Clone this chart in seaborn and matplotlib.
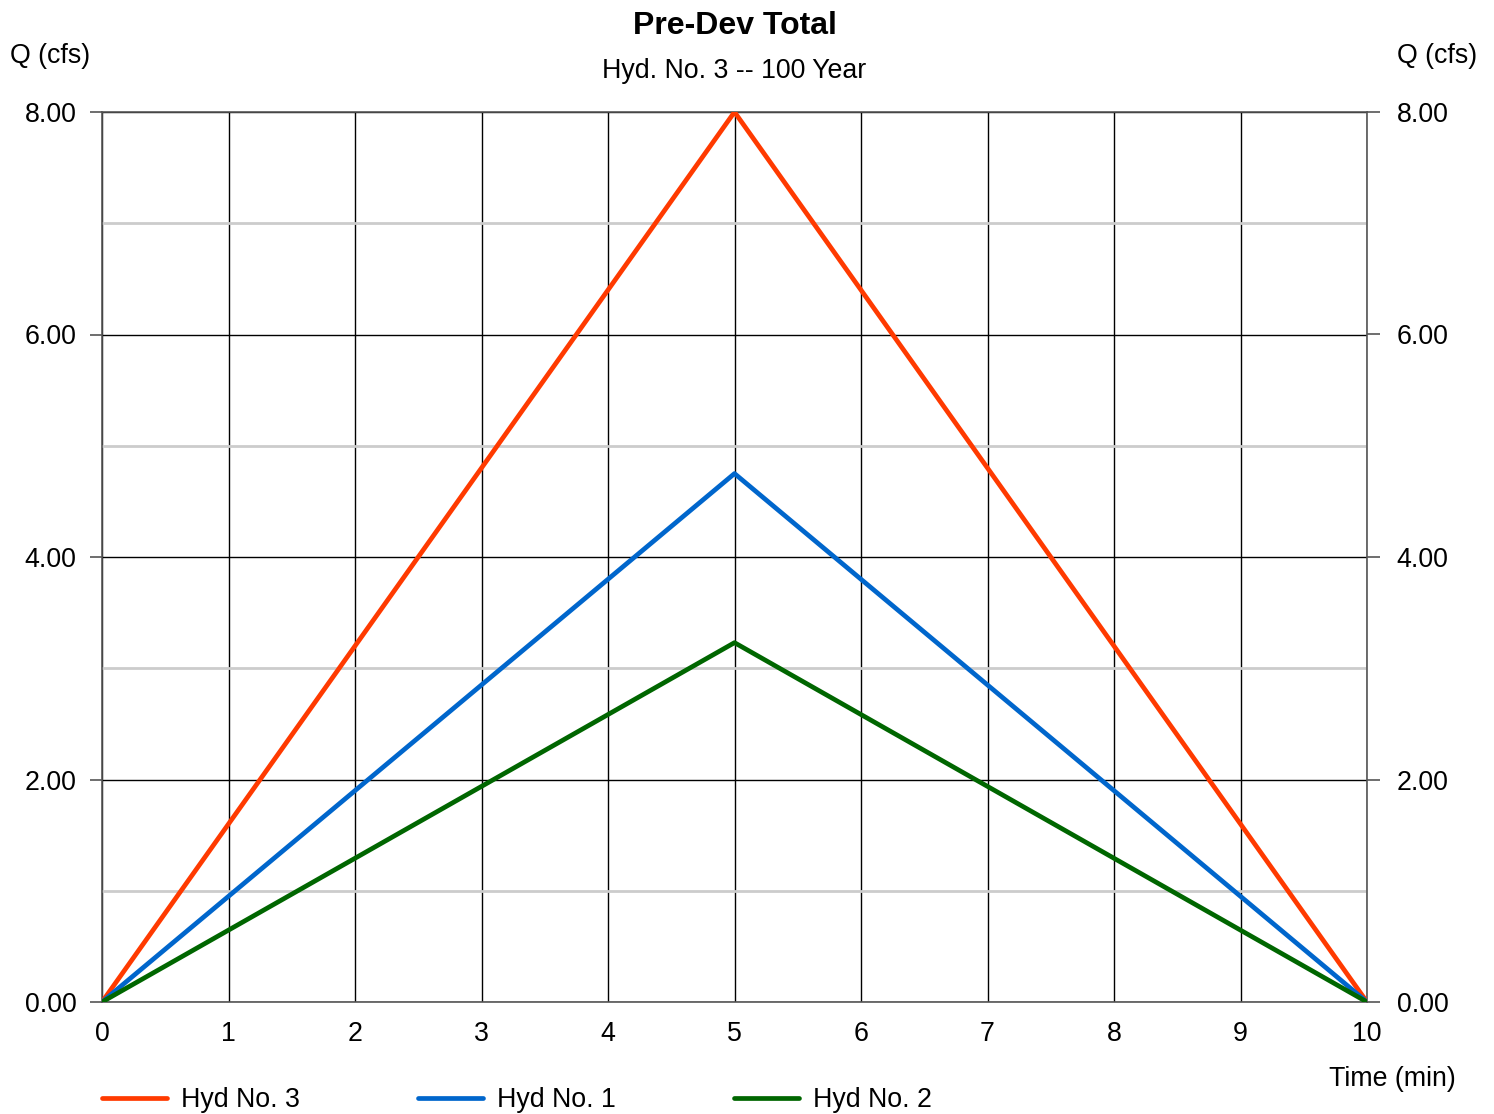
import matplotlib
matplotlib.use("Agg")
import matplotlib.pyplot as plt
import seaborn as sns
import pandas as pd
from matplotlib.ticker import FixedLocator

# ---- data ----
time_min = [0, 5, 10]
hyd3 = [0.0, 8.00, 0.0]
hyd1 = [0.0, 4.75, 0.0]
hyd2 = [0.0, 3.23, 0.0]
series_names = ["Hyd No. 3", "Hyd No. 1", "Hyd No. 2"]
series_colors = ["#FF3A00", "#0066CC", "#006600"]
y_ticks = [0, 2, 4, 6, 8]
x_ticks = list(range(0, 11))

df = pd.concat([
    pd.DataFrame({"Time": time_min, "Q": hyd3, "Series": series_names[0]}),
    pd.DataFrame({"Time": time_min, "Q": hyd1, "Series": series_names[1]}),
    pd.DataFrame({"Time": time_min, "Q": hyd2, "Series": series_names[2]}),
])

sns.set_theme(style="white")
plt.rcParams['font.family'] = ['Liberation Sans', 'DejaVu Sans']
plt.rcParams['text.color'] = 'black'
plt.rcParams['xtick.color'] = 'black'
plt.rcParams['ytick.color'] = 'black'

FS = 19.3

fig = plt.figure(figsize=(14.94, 11.14), dpi=100)
ax = fig.add_axes([102/1494, 1 - 1002/1114, (1367-102)/1494, (1002-112)/1114])

sns.lineplot(data=df, x="Time", y="Q", hue="Series", hue_order=series_names,
             palette=series_colors, linewidth=3.4, ax=ax, legend=False, zorder=5)

ax.set_xlim(0, 10)
ax.set_ylim(0, 8)
ax.xaxis.set_major_locator(FixedLocator(x_ticks))
ax.yaxis.set_major_locator(FixedLocator(y_ticks))
ax.yaxis.set_minor_locator(FixedLocator([1, 3, 5, 7]))
ax.set_yticklabels([f"{v:.2f}" for v in y_ticks])
ax.grid(True, which="major", axis="both", color="black", linewidth=1.0)
ax.grid(True, which="minor", axis="y", color="#cccccc", linewidth=2.0)
ax.set_axisbelow(True)
ax.set_xlabel("")
ax.set_ylabel("")
for s in ax.spines.values():
    s.set_color("#555555")
    s.set_linewidth(1.2)
ax.tick_params(axis="y", which="major", length=9, width=1.2, color="#555555",
               labelcolor="black", labelsize=FS, pad=9.5, left=True)
ax.tick_params(axis="y", which="minor", length=0)
ax.tick_params(axis="x", length=0, labelsize=FS, labelcolor="black", pad=14)

ax2 = ax.twinx()
ax2.set_ylim(0, 8)
ax2.yaxis.set_major_locator(FixedLocator(y_ticks))
ax2.set_yticklabels([f"{v:.2f}" for v in y_ticks])
ax2.tick_params(axis="y", length=9, width=1.2, color="#555555", labelcolor="black",
                labelsize=FS, pad=12.5, right=True)
for s in ax2.spines.values():
    s.set_visible(False)

fig.text(735/1494, 1 - 26/1114, "Pre-Dev Total", ha="center", va="center",
         fontsize=23, fontweight="bold")
fig.text(734/1494, 1 - 71/1114, "Hyd. No. 3 -- 100 Year", ha="center", va="center",
         fontsize=FS)
fig.text(50/1494, 1 - 56/1114, "Q (cfs)", ha="center", va="center", fontsize=FS)
fig.text(1437/1494, 1 - 56/1114, "Q (cfs)", ha="center", va="center", fontsize=FS)
fig.text(1392/1494, 1 - 1079/1114, "Time (min)", ha="center", va="center", fontsize=FS)

handles = [plt.Line2D([], [], color=c, linewidth=3.4) for c in series_colors]
fig.legend(handles, series_names, loc="center left",
           bbox_to_anchor=(102/1494, 1 - 1100/1114), ncol=3, frameon=False,
           fontsize=FS, handlelength=2.43, handletextpad=0.52,
           columnspacing=4.40, borderaxespad=0, borderpad=0)

fig.savefig("out.png", dpi=100)
